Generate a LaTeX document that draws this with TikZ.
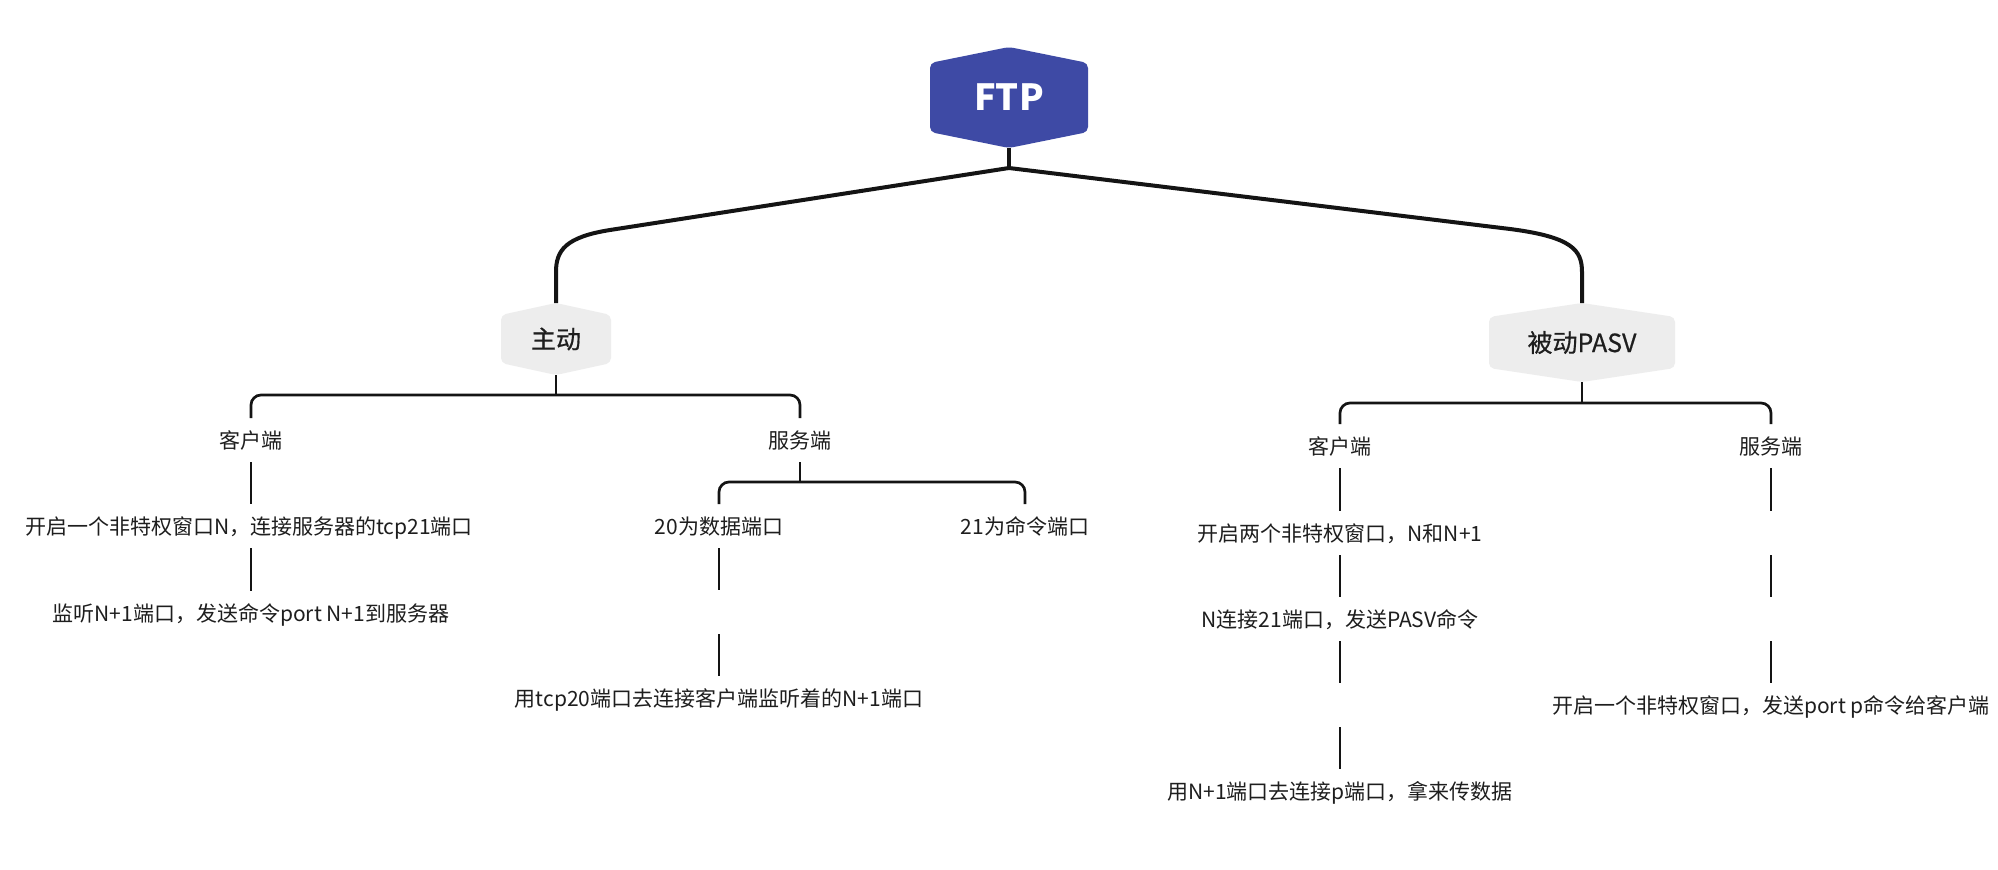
\documentclass[tikz,border=0pt]{standalone}
\usepackage{fontspec}
\setmainfont{Noto Sans CJK SC}
\newfontfamily\medfont[FakeBold=0.6]{Noto Sans CJK SC}
\usetikzlibrary{calc,backgrounds}
\definecolor{ftpblue}{RGB}{62,74,165}
\definecolor{hexgray}{RGB}{237,237,237}
\definecolor{ink}{RGB}{30,30,30}
\definecolor{lnk}{RGB}{20,20,20}
\newcommand\myhex[3]{\fill[#3, rounded corners=5pt] (#1.north) -- ($(#1.north east)+(0,#2)$) -- ($(#1.south east)-(0,#2)$) -- (#1.south) -- ($(#1.south west)-(0,#2)$) -- ($(#1.north west)+(0,#2)$) -- cycle;}
\tikzset{
  hexnode/.style={inner sep=0pt, outer sep=0pt, align=center},
  txt/.style={font=\fontsize{21}{25}\selectfont, text=ink, text height=18.5pt, text depth=2.5pt, inner xsep=0pt, inner ysep=11.5pt, outer sep=0pt},
  mainln/.style={draw=lnk, line width=4pt},
  subln/.style={draw=lnk, line width=2.7pt},
}
\begin{document}
\begin{tikzpicture}[x=1pt,y=-1pt]
\useasboundingbox (0,0) rectangle (1998,870);

% top level
\node[hexnode, minimum width=158pt, minimum height=101pt, text=white, font=\bfseries\fontsize{36}{42}\selectfont] (ftp) at (1009,97.5) {FTP};
\node[hexnode, minimum width=110pt, minimum height=72pt, text=ink, font=\medfont\fontsize{25}{30}\selectfont] (zd) at (556,339) {主动};
\node[hexnode, minimum width=186pt, minimum height=79pt, text=ink, font=\medfont\fontsize{25}{30}\selectfont] (bd) at (1582,342.5) {被动PASV};
\begin{pgfonlayer}{background}
\fill[white] (0,0) rectangle (1998,870);
\myhex{ftp}{16}{ftpblue}
\myhex{zd}{12}{hexgray}
\myhex{bd}{14}{hexgray}
\end{pgfonlayer}

% left branch
\node[txt] (kh1) at (251,440) {客户端};
\node[txt] (fw1) at (800,440) {服务端};
\node[txt] (a1) at (249,526) {开启一个非特权窗口N，连接服务器的tcp21端口};
\node[txt] (a2) at (251,613) {监听N+1端口，发送命令port N+1到服务器};
\node[txt] (b1) at (719,526) {20为数据端口};
\node[txt] (b2) at (1025,526) {21为命令端口};
\node[txt] (b3) at (719,612) {};
\node[txt] (b4) at (719,698) {用tcp20端口去连接客户端监听着的N+1端口};

% right branch
\node[txt] (kh2) at (1340,446) {客户端};
\node[txt] (fw2) at (1771,446) {服务端};
\node[txt] (c1) at (1340,533) {开启两个非特权窗口，N和N+1};
\node[txt] (c2) at (1340,619) {N连接21端口，发送PASV命令};
\node[txt] (c3) at (1340,705) {};
\node[txt] (c4) at (1340,791) {用N+1端口去连接p端口，拿来传数据};
\node[txt] (d1) at (1771,533) {};
\node[txt] (d2) at (1771,619) {};
\node[txt] (d3) at (1771,705) {开启一个非特权窗口，发送port p命令给客户端};

% main connectors
\coordinate (j0) at (1009,168);
\draw[mainln] (ftp.south) -- (j0);
\draw[mainln] (j0) -- (610,230) .. controls (566,237) and (556,250) .. (556,272) -- (zd.north);
\draw[mainln] (j0) -- (1510,229) .. controls (1572,237) and (1582,250) .. (1582,272) -- (bd.north);

% brackets
\coordinate (zj) at ($(zd.south)+(0,20)$);
\draw[subln] (zd.south) -- (zj);
\draw[subln, rounded corners=10pt] (kh1.north) |- (zj) -| (fw1.north);
\coordinate (fj) at ($(fw1.south)+(0,20)$);
\draw[subln] (fw1.south) -- (fj);
\draw[subln, rounded corners=10pt] (b1.north) |- (fj) -| (b2.north);
\coordinate (bj) at ($(bd.south)+(0,21)$);
\draw[subln] (bd.south) -- (bj);
\draw[subln, rounded corners=10pt] (kh2.north) |- (bj) -| (fw2.north);

% chains
\draw[subln] (kh1.south) -- (kh1.south |- a1.north);
\draw[subln] (kh1.south |- a1.south) -- (a2.north);
\draw[subln] (b1.south) -- (b3.north);
\draw[subln] (b3.south) -- (b4.north);
\draw[subln] (kh2.south) -- (c1.north);
\draw[subln] (c1.south) -- (c2.north);
\draw[subln] (c2.south) -- (c3.north);
\draw[subln] (c3.south) -- (c4.north);
\draw[subln] (fw2.south) -- (d1.north);
\draw[subln] (d1.south) -- (d2.north);
\draw[subln] (d2.south) -- (d3.north);
\end{tikzpicture}
\end{document}
